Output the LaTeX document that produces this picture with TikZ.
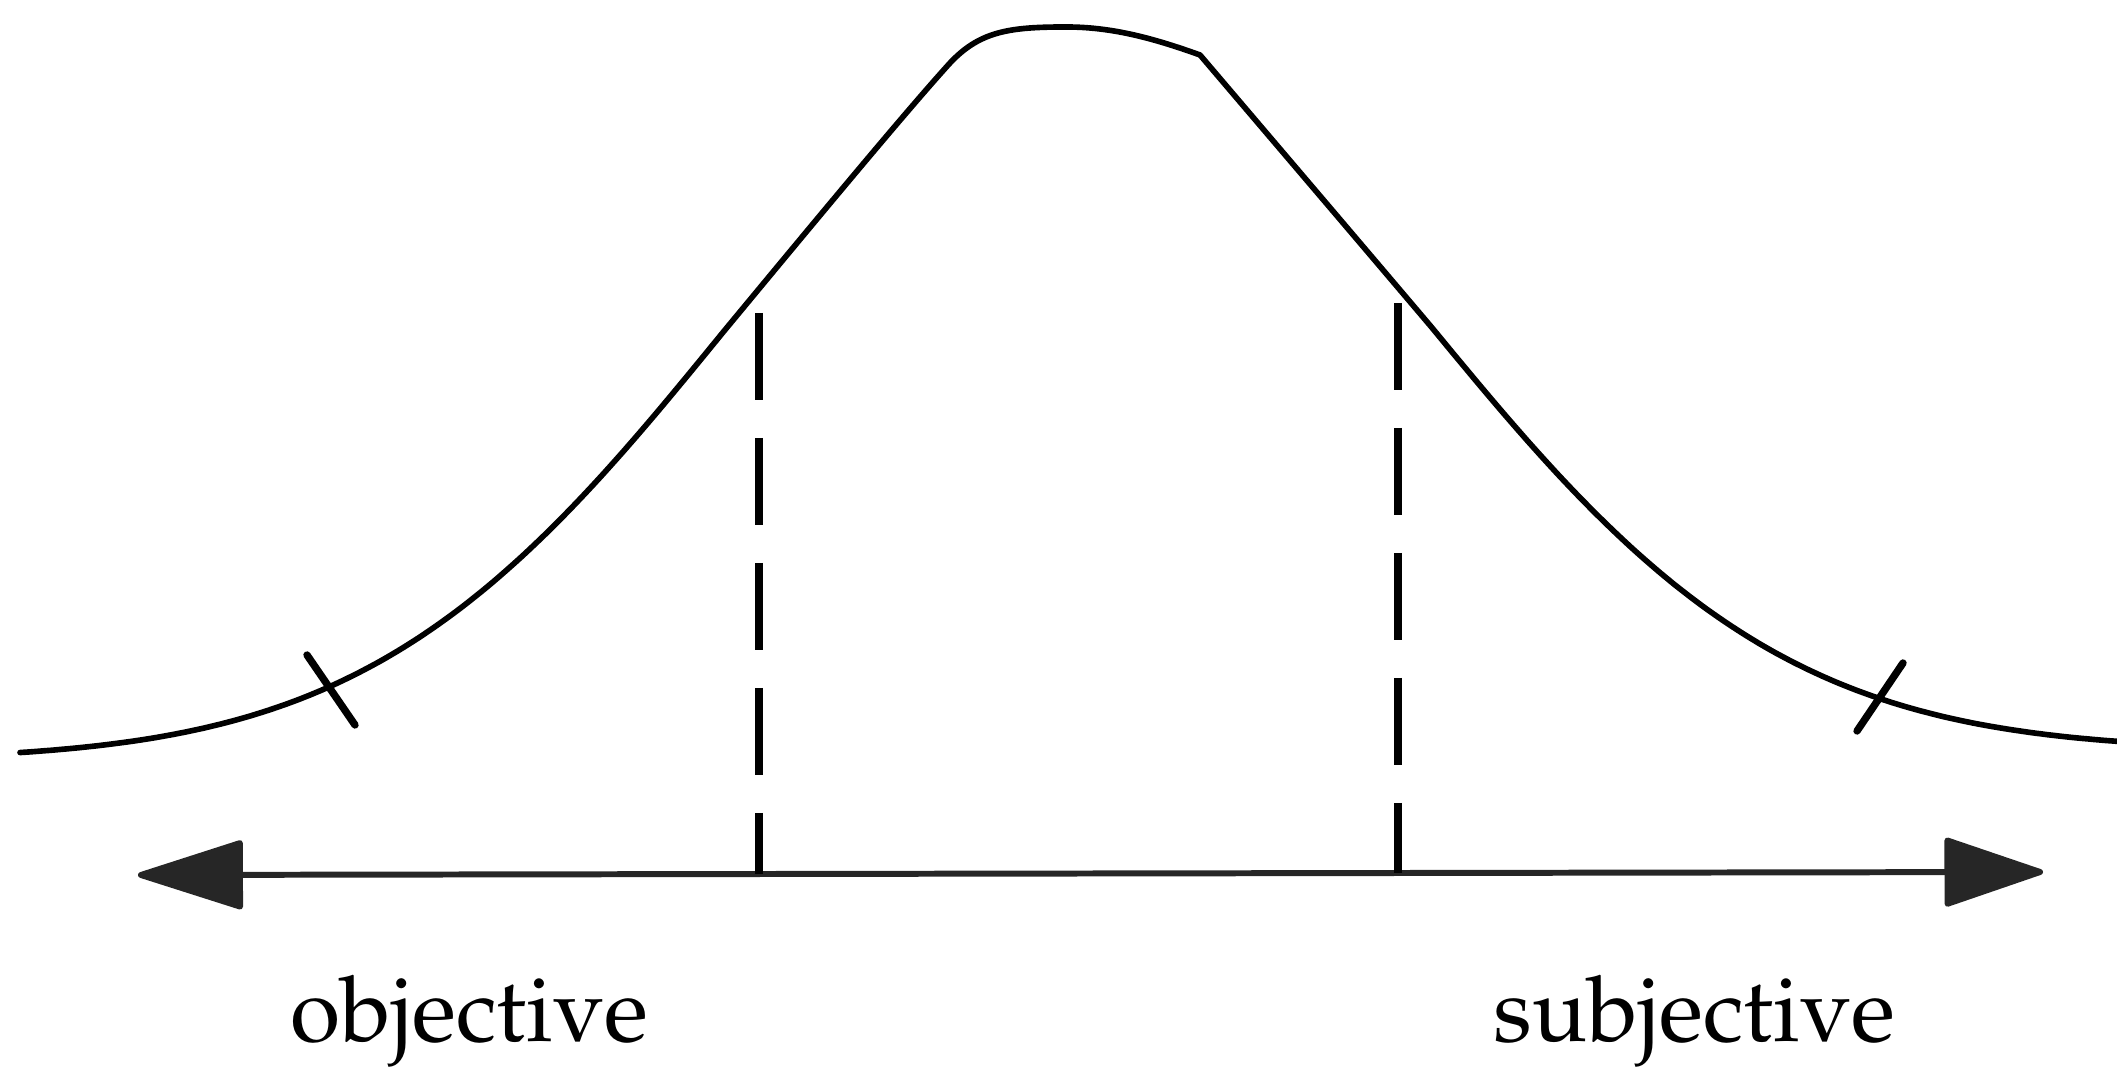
\documentclass[tikz,border=0pt]{standalone}
\usepackage[T1]{fontenc}
\usepackage{mathpazo}
\usetikzlibrary{arrows.meta}
\tikzset{
  curveline/.style={line width=1.6pt, line join=round, line cap=round},
  tickline/.style={line width=2.1pt, line cap=round},
  dashline/.style={line width=2.1pt, dash pattern=on 0.87cm off 0.38cm},
  axisline/.style={line width=1.7pt, color=black!85, {Triangle[length=1.12cm, width=0.70cm, round]}-{Triangle[length=1.05cm, width=0.70cm, round]}},
  label/.style={inner sep=0pt, anchor=base west, font=\fontsize{26}{30}\selectfont}
}
\begin{document}
\begin{tikzpicture}
\useasboundingbox (0,0) rectangle (21.17,10.69);
% bell curve: left flank, rounded top, right flank
\draw[curveline]
  plot[domain=0.2:7.23, samples=120, variable=\x] ({\x},{3.09+7.05*exp(-(\x-10.72)^2/24.36)})
  .. controls (8.3,8.66) and (9.1,9.62) .. (9.5,10.06)
  .. controls (9.8,10.38) and (10.1,10.42) .. (10.66,10.42)
  .. controls (11.1,10.42) and (11.5,10.32) .. (12.0,10.14)
  .. controls (12.8,9.2) and (13.5,8.38) .. (14.3,7.436)
  -- plot[domain=14.3:21.17, samples=120, variable=\x] ({\x},{3.19+7.0*exp(-(\x-10.80)^2/24.5)});
% tick marks
\coordinate (lt1) at (3.07,4.14);
\coordinate (lt2) at (3.55,3.44);
\coordinate (rt1) at (19.03,4.06);
\coordinate (rt2) at (18.57,3.38);
\draw[tickline] (lt1) -- (lt2);
\draw[tickline] (rt1) -- (rt2);
% axis
\coordinate (axl) at (1.38,1.94);
\coordinate (axr) at (20.43,1.97);
\draw[axisline] (axl) -- (axr);
% dashed lines
\coordinate (d1t) at (7.59,7.56);
\coordinate (d1b) at (7.59,1.945);
\coordinate (d2t) at (13.98,7.66);
\coordinate (d2b) at (13.98,1.955);
\draw[dashline] (d1t) -- (d1b);
\draw[dashline] (d2t) -- (d2b);
% labels
\node[label] (obj) at (2.90,0.27) {objective};
\node[label] (subj) at (14.93,0.27) {subjective};
\end{tikzpicture}
\end{document}
